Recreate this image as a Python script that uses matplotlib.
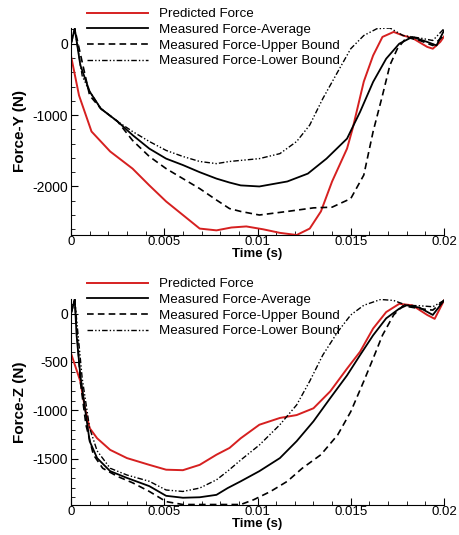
import numpy as np
import matplotlib.pyplot as plt
from matplotlib.ticker import MultipleLocator

plt.rcParams['font.family'] = ['Liberation Sans', 'DejaVu Sans']
plt.rcParams['axes.unicode_minus'] = False

labels = ['Predicted Force', 'Measured Force-Average',
          'Measured Force-Upper Bound', 'Measured Force-Lower Bound']

# Force-Y (üst panel)
y_pred_t = [0, 0.00043, 0.0011, 0.0021, 0.0033, 0.0042, 0.0051, 0.006, 0.0069, 0.0078,
            0.0086, 0.0094, 0.0103, 0.0112, 0.0121, 0.0128, 0.0134, 0.014, 0.0148, 0.0151,
            0.0157, 0.0162, 0.0167, 0.0173, 0.0178, 0.0183, 0.0191, 0.0194, 0.0198, 0.02]
y_pred_f = [-170, -725, -1230, -1510, -1750, -1985, -2210, -2400, -2590, -2615,
            -2575, -2560, -2600, -2650, -2680, -2590, -2350, -1930, -1470, -1190,
            -530, -165, 95, 165, 115, 80, -45, -70, 25, 100]

y_avg_t = [0, 0.0002, 0.0005, 0.001, 0.0016, 0.0025, 0.0033, 0.0042, 0.0051, 0.006, 0.0069,
           0.0078, 0.0085, 0.0091, 0.0101, 0.0116, 0.0127, 0.0137, 0.0148, 0.0155,
           0.0162, 0.0169, 0.0176, 0.0183, 0.0191, 0.0196, 0.02]
y_avg_f = [0, 210, -300, -670, -910, -1090, -1280, -1470, -1610, -1700, -1800,
           -1890, -1945, -1985, -2000, -1930, -1820, -1610, -1330, -955,
           -535, -210, 0, 95, 25, -25, 185]

y_up_t = [0, 0.0002, 0.001, 0.0016, 0.0025, 0.0033, 0.0042, 0.0051, 0.006, 0.0069, 0.0078,
          0.0085, 0.0091, 0.0101, 0.0116, 0.013, 0.014, 0.015, 0.0157, 0.0162, 0.0167,
          0.0171, 0.0175, 0.018, 0.0187, 0.0194, 0.02]
y_up_f = [0, 210, -725, -910, -1090, -1355, -1580, -1750, -1890, -2030, -2190,
          -2310, -2350, -2400, -2350, -2300, -2290, -2170, -1840, -1230, -725,
          -300, -70, 90, 45, -25, 115]

y_lo_t = [0, 0.0002, 0.0006, 0.001, 0.0016, 0.0025, 0.0033, 0.0042, 0.0051, 0.006, 0.0069,
          0.0078, 0.0085, 0.0091, 0.0101, 0.0112, 0.0121, 0.0128, 0.0135, 0.0143,
          0.015, 0.0157, 0.0164, 0.0171, 0.0178, 0.0187, 0.0194, 0.02]
y_lo_f = [0, 210, -450, -670, -910, -1090, -1230, -1370, -1495, -1580, -1650,
          -1680, -1650, -1635, -1610, -1540, -1370, -1140, -770, -395,
          -70, 115, 210, 220, 115, 80, 45, 210]

# Force-Z (alt panel)
z_pred_t = [0, 0.0005, 0.00075, 0.001, 0.0014, 0.0021, 0.003, 0.0042, 0.0051, 0.006,
            0.0069, 0.0078, 0.0085, 0.0091, 0.0101, 0.0112, 0.0121, 0.013, 0.0139,
            0.0148, 0.0155, 0.0162, 0.0169, 0.0176, 0.0183, 0.0191, 0.0195, 0.02]
z_pred_f = [-412, -700, -980, -1185, -1290, -1410, -1495, -1565, -1615, -1620,
            -1565, -1460, -1390, -1290, -1150, -1080, -1050, -980, -805,
            -570, -395, -155, 15, 100, 85, -15, -55, 135]

z_avg_t = [0, 0.0002, 0.0003, 0.0005, 0.00075, 0.001, 0.0014, 0.0021, 0.003, 0.0042,
           0.0051, 0.006, 0.0069, 0.0078, 0.0084, 0.0091, 0.0101, 0.0112, 0.0121,
           0.013, 0.0139, 0.0148, 0.0155, 0.0162, 0.0169, 0.0176, 0.018, 0.0187,
           0.0194, 0.02]
z_avg_f = [0, 145, -225, -640, -980, -1320, -1495, -1630, -1700, -1785,
           -1885, -1905, -1900, -1875, -1805, -1735, -1630, -1495, -1320,
           -1115, -875, -640, -430, -225, -50, 50, 85, 60,
           -15, 135]

z_up_t = [0, 0.0002, 0.0005, 0.0008, 0.0012, 0.0017, 0.0025, 0.0033, 0.0042, 0.0051,
          0.006, 0.0091, 0.0098, 0.0107, 0.0116, 0.0124, 0.0134, 0.0143, 0.015,
          0.0157, 0.0162, 0.0167, 0.0173, 0.0178, 0.0187, 0.0194, 0.02]
z_up_f = [0, 145, -700, -1150, -1460, -1600, -1685, -1750, -1840, -1945,
          -1975, -1975, -1925, -1840, -1735, -1600, -1460, -1255, -1015,
          -700, -465, -225, -15, 80, 50, 35, 135]

z_lo_t = [0, 0.0002, 0.0006, 0.001, 0.0014, 0.0021, 0.003, 0.0042, 0.0051, 0.006,
          0.0069, 0.0078, 0.0084, 0.0091, 0.0101, 0.0112, 0.0121, 0.0128, 0.0135,
          0.0143, 0.015, 0.0157, 0.0166, 0.0173, 0.018, 0.0187, 0.0194, 0.02]
z_lo_f = [0, 145, -670, -1185, -1420, -1600, -1670, -1735, -1825, -1840,
          -1805, -1720, -1630, -1515, -1360, -1150, -945, -700, -430,
          -190, -15, 85, 145, 135, 85, 80, 70, 135]

xticks = [0, 0.005, 0.01, 0.015, 0.02]
xticklabels = ['0', '0.005', '0.01', '0.015', '0.02']

styles = [dict(color='#d62020', lw=1.4, ls='-'),
          dict(color='black', lw=1.3, ls='-'),
          dict(color='black', lw=1.2, ls=(0, (4, 2.5))),
          dict(color='black', lw=1.0, ls=(0, (4, 1.5, 1, 1.5, 1, 1.5)))]


def draw_panel(ax, series, ylim, ymajor, yminor, ylabel, leg_y):
    for (t, f), lab, st in zip(series, labels, styles):
        ax.plot(t, f, label=lab, **st)
    ax.set_xlim(0, 0.02)
    ax.set_ylim(*ylim)
    ax.set_xticks(xticks)
    ax.set_xticklabels(xticklabels)
    ax.xaxis.set_minor_locator(MultipleLocator(0.001))
    ax.yaxis.set_major_locator(MultipleLocator(ymajor))
    ax.yaxis.set_minor_locator(MultipleLocator(yminor))
    ax.tick_params(which='both', direction='in', labelsize=10, pad=2)
    ax.tick_params(axis='x', labelsize=9.5, pad=1)
    ax.tick_params(which='major', length=5)
    ax.tick_params(which='minor', length=3)
    ax.spines['top'].set_visible(False)
    ax.spines['right'].set_visible(False)
    ax.set_xlabel('Time (s)', fontweight='bold', fontsize=9.5, labelpad=0)
    ax.set_ylabel(ylabel, fontweight='bold', fontsize=11, labelpad=4)
    ax.legend(loc='upper left', bbox_to_anchor=(87 / 459, leg_y),
              bbox_transform=fig.transFigure, frameon=False, fontsize=9.6,
              handlelength=4.6, handletextpad=0.8, labelspacing=0.25,
              borderpad=0, borderaxespad=0)


fig = plt.figure(figsize=(4.59, 5.35), dpi=100)
ax1 = fig.add_axes([71 / 459, 1 - 235 / 535, 373 / 459, 207 / 535])
ax2 = fig.add_axes([71 / 459, 1 - 505 / 535, 373 / 459, 206 / 535])

draw_panel(ax1, [(y_pred_t, y_pred_f), (y_avg_t, y_avg_f), (y_up_t, y_up_f), (y_lo_t, y_lo_f)],
           (-2680, 220), 1000, 200, 'Force-Y (N)', 1 - 8 / 535)
draw_panel(ax2, [(z_pred_t, z_pred_f), (z_avg_t, z_avg_f), (z_up_t, z_up_f), (z_lo_t, z_lo_f)],
           (-1980, 150), 500, 100, 'Force-Z (N)', 1 - 278 / 535)

fig.savefig('out.png', dpi=100)
